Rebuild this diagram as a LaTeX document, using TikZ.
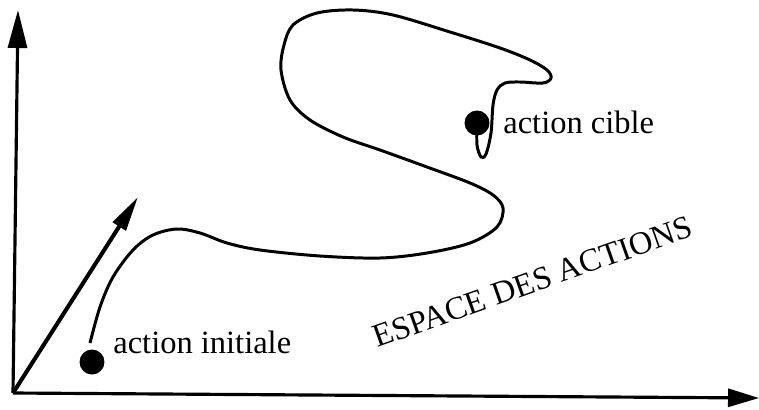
\documentclass[tikz,border=0pt]{standalone}
\usepackage{fontspec}
\setmainfont{Liberation Serif}
\usetikzlibrary{arrows.meta}

\tikzset{
  axe/.style={line width=1.8pt},
  point/.style={circle, fill, inner sep=0pt, minimum size=0.5cm},
  etiquette/.style={font=\fontsize{18.5}{22}\selectfont, inner sep=0pt},
}

\begin{document}
\begin{tikzpicture}[x=0.02cm, y=-0.02cm]
    \useasboundingbox (0,0) rectangle (759,409);
    \coordinate (O) at (13,393);
    \coordinate (Y) at (18,10);
    \coordinate (X) at (759,398);
    \coordinate (D) at (138,197);
    \draw[axe, -{Triangle[length=0.76cm, width=0.38cm]}] (O) -- (Y);
    \draw[axe, -{Triangle[length=0.62cm, width=0.36cm]}] (O) -- (X);
    \draw[line width=2.3pt, -{Triangle[length=0.7cm, width=0.3cm]}] (O) -- (D);

    \node[point] (init) at (92,362) {};
    \node[point] (cible) at (477,123) {};
    \node[etiquette, anchor=base west] (linit) at (113,353) {action initiale};
    \node[etiquette, anchor=base west] (lcible) at (503,133) {action cible};
    \node[etiquette, anchor=base west, rotate=19.45] (espace) at (377,348) {ESPACE DES ACTIONS};

    % trajectoire
    \draw[line width=1.7pt] plot[smooth, tension=0.55] coordinates {
        (90,343) (100,307) (113,277) (133,250) (153,235) (177,229) (200,233)
        (227,243) (260,250) (320,256) (380,258) (427,253) (470,243) (497,227)
        (503,208) (493,195) (470,183) (427,167) (380,150) (343,137) (310,120)
        (290,100) (281,70) (284,45) (293,25) (317,13) (353,10) (393,15)
        (450,32) (500,48) (530,60) (547,70) (551,78) (543,83) (520,82)
        (505,83) (497,90) (493,105) (491,133) (486,154) (481,157) (477,145)
        (477,125)};
\end{tikzpicture}
\end{document}
